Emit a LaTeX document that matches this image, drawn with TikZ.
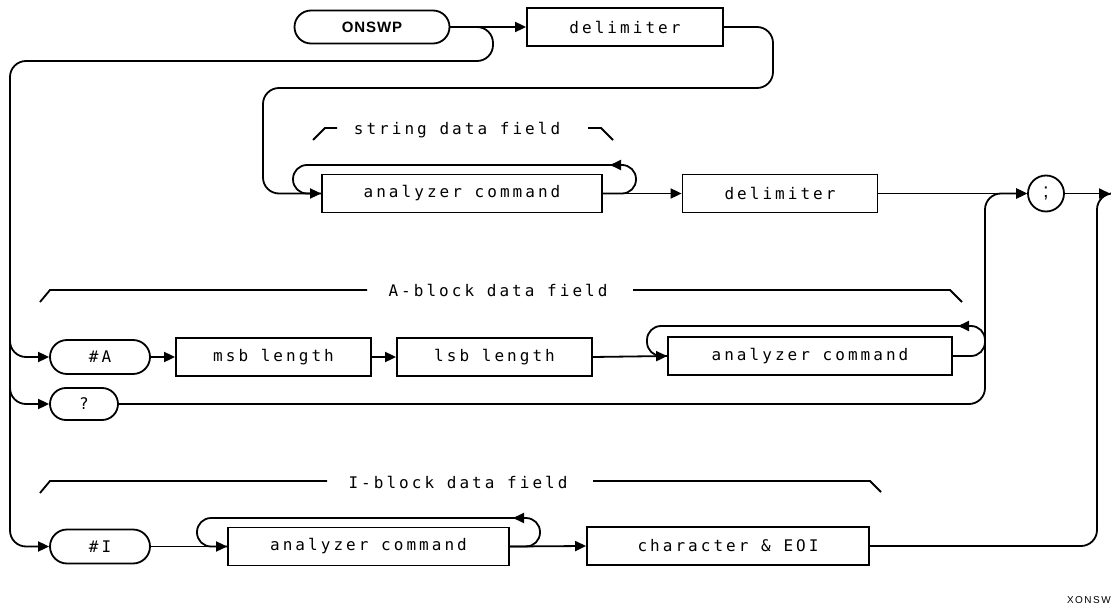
\documentclass[tikz,border=0pt]{standalone}
\usepackage{fontspec}
\setmainfont{Liberation Sans}
\newfontfamily\diagfont[LetterSpace=19]{DejaVu Sans Mono}
\newfontfamily\kwfont[LetterSpace=6]{Liberation Sans}
\newfontfamily\tagfont[LetterSpace=15]{Liberation Sans}
\usetikzlibrary{arrows.meta,shapes.misc}
\begin{document}
\begin{tikzpicture}[x=1pt,y=-1pt,
  box/.style={draw, rectangle, line width=1.8pt, minimum height=38pt, inner sep=0pt,
    font=\diagfont\fontsize{16}{16}\selectfont},
  term/.style={draw, rounded rectangle, line width=1.8pt, minimum height=34pt, inner sep=0pt,
    font=\diagfont\fontsize{16}{16}\selectfont},
  flow/.style={line width=1.8pt, rounded corners=16pt},
  loopline/.style={line width=1.8pt, rounded corners=14pt},
  arr/.style={-{Triangle[length=11pt,width=10pt]}},
  lbl/.style={inner sep=0pt, font=\diagfont\fontsize{16}{16}\selectfont},
  brace/.style={line width=1.8pt}]
\useasboundingbox (0,0) rectangle (1111,607);

% nodes
\node[term, minimum width=155pt, minimum height=33pt, font=\kwfont\bfseries\fontsize{15}{15}\selectfont] (onswp) at (372,27) {ONSWP};
\node[box, minimum width=196pt] (delim1) at (625,27) {delimiter};
\node[box, minimum width=280pt] (cmd1) at (462,193.5) {analyzer command};
\node[box, minimum width=195pt] (delim2) at (780,193.5) {delimiter};
\node[draw, circle, line width=1.8pt, minimum size=36pt, inner sep=0pt, font=\fontsize{20}{20}\selectfont] (semi) at (1046,193.5) {;};
\node[term, minimum width=100pt] (hashA) at (100,357) {\#A};
\node[box, minimum width=195pt] (msb) at (273.5,357) {msb length};
\node[box, minimum width=195pt] (lsb) at (494.5,357) {lsb length};
\node[box, minimum width=284pt] (cmd2) at (810,356) {analyzer command};
\node[term, minimum width=68pt, minimum height=32pt] (qm) at (84,404) {?};
\node[term, minimum width=100pt] (hashI) at (100,546.5) {\#I};
\node[box, minimum width=281pt] (cmd3) at (368.5,546.5) {analyzer command};
\node[box, minimum width=282pt] (chr) at (728,546) {character \& EOI};
\coordinate (exit) at (1110,193.5);

% labels
\node[lbl] (strl) at (457,130) {string data field};
\node[lbl] (al) at (498,290) {A-block data field};
\node[lbl] (il) at (458,482) {I-block data field};
\node[anchor=east, inner sep=0pt, font=\tagfont\fontsize{10}{10}\selectfont] (xon) at (1111,600) {XONSW};

\draw[brace] (313,140) -- (325,128) -- (337,128);
\draw[brace] (588,128) -- (601,128) -- (613,140);
\draw[brace] (40,302) -- (50,290) -- (367,290);
\draw[brace] (633,290) -- (950,290) -- (962,302);
\draw[brace] (40,493) -- (50,481) -- (327,481);
\draw[brace] (593,481) -- (870,481) -- (881,492);

% connectors
\draw[flow, arr] (onswp.east) -- (delim1.west);
\draw[flow, arr] (onswp.east) -- (493,27) -- (493,61) -- (10,61) -- (10,546.5) -- (hashI.west);
\draw[flow, arr] (10,330) -- (10,357) -- (hashA.west);
\draw[flow, arr] (10,380) -- (10,404) -- (qm.west);
\draw[flow, arr] (delim1.east) -- (773,27) -- (773,88) -- (263,88) -- (263,193.5) -- (cmd1.west);
\draw[loopline] (cmd1.east) -- (636,193.5) -- (636,165) -- (293,165) -- (293,193.5) -- (cmd1.west);
\draw[line width=1.8pt, arr] (624,165) -- (610,165);
\draw[flow, arr] (cmd1.east) -- (delim2.west);
\draw[flow, arr] (delim2.east) -- (semi.west);
\draw[flow] (chr.east) -- (1097,546) -- (1097,193.5) -- (exit);
\draw[flow, arr] (semi.east) -- (exit);
\draw[flow, arr] (qm.east) -- (985,404) -- (985,193.5) -- (semi.west);
\draw[loopline] (cmd2.east) -- (985,356) -- (985,326) -- (647,326) -- (647,356) -- (cmd2.west);
\draw[line width=1.8pt, arr] (972,326) -- (958,326);
\draw[flow, arr] (hashA.east) -- (msb.west);
\draw[flow, arr] (msb.east) -- (lsb.west);
\draw[flow, arr] (lsb.east) -- (cmd2.west);
\draw[flow, arr] (hashI.east) -- (cmd3.west);
\draw[loopline] (cmd3.east) -- (540,546.5) -- (540,518) -- (197,518) -- (197,546.5) -- (cmd3.west);
\draw[line width=1.8pt, arr] (527,518) -- (513,518);
\draw[flow, arr] (cmd3.east) -- (chr.west);
\end{tikzpicture}
\end{document}
